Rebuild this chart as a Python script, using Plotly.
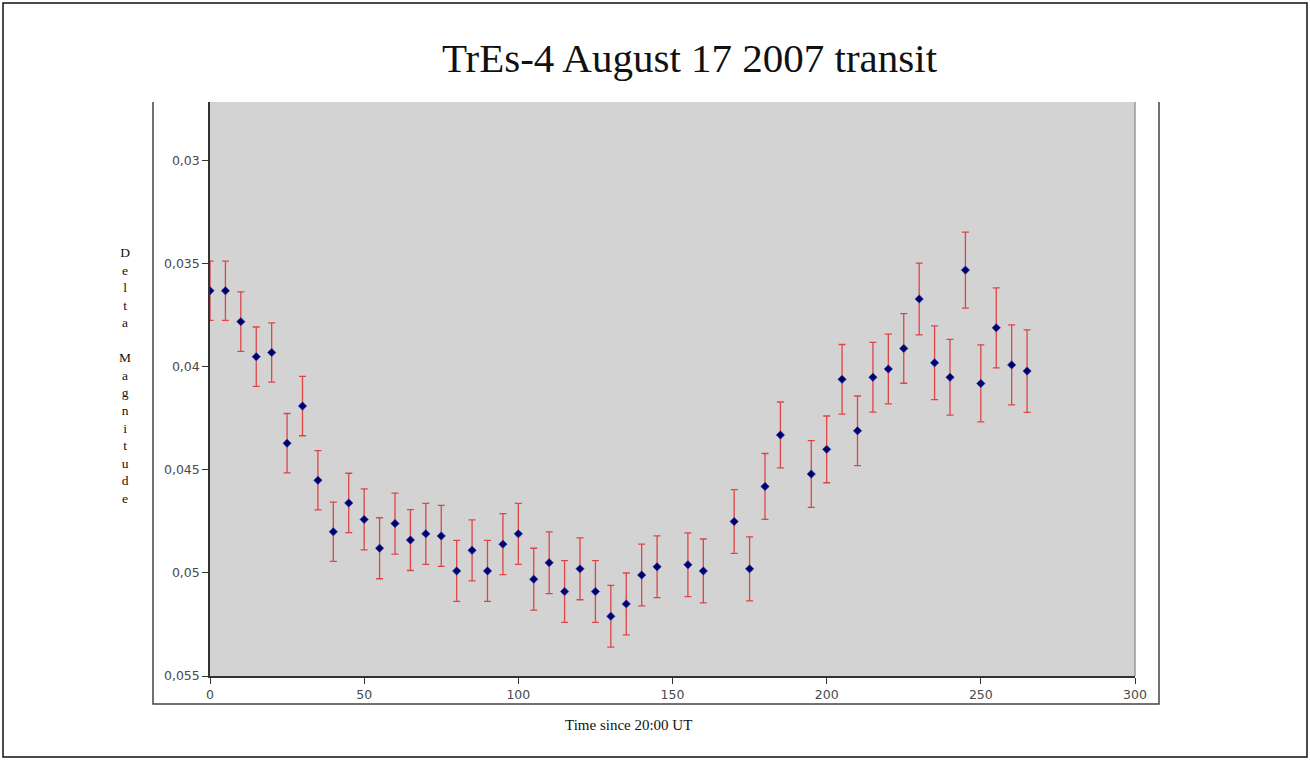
import plotly.graph_objects as go

# ---- data ----
time_min = [0, 5, 10, 15, 20, 25, 30, 35, 40, 45,
            50, 55, 60, 65, 70, 75, 80, 85, 90, 95, 100,
            105, 110, 115, 120, 125, 130, 135, 140, 145,
            155, 160, 170, 175, 180, 185, 195, 200,
            205, 210, 215, 220, 225, 230, 235, 240, 245,
            250, 255, 260, 265]
delta_mag = [0.0363, 0.0363, 0.0378, 0.0395, 0.0393, 0.0437, 0.0419, 0.0455, 0.0480, 0.0466,
             0.0474, 0.0488, 0.0476, 0.0484, 0.0481, 0.0482, 0.0499, 0.0489, 0.0499, 0.0486, 0.0481,
             0.0503, 0.0495, 0.0509, 0.0498, 0.0509, 0.0521, 0.0515, 0.0501, 0.0497,
             0.0496, 0.0499, 0.0475, 0.0498, 0.0458, 0.0433, 0.0452, 0.0440,
             0.0406, 0.0431, 0.0405, 0.0401, 0.0391, 0.0367, 0.0398, 0.0405, 0.0353,
             0.0408, 0.0381, 0.0399, 0.0402]
mag_err = [0.00144] * 10 + [0.00148] * 11 + [0.0015] * 9 + \
          [0.00155, 0.00155, 0.00155, 0.00155, 0.0016, 0.0016, 0.00162, 0.00162,
           0.00169, 0.00169, 0.00169, 0.00169, 0.00169, 0.00174, 0.00179, 0.00184, 0.00184,
           0.00187, 0.00194, 0.00194, 0.0020]

y_tickvals = [0.03, 0.035, 0.04, 0.045, 0.05, 0.055]
y_ticktext = ["0,03", "0,035", "0,04", "0,045", "0,05", "0,055"]
x_tickvals = [0, 50, 100, 150, 200, 250, 300]

title_text = "TrEs-4 August 17 2007 transit"
x_title = "Time since 20:00 UT"
y_title = "Delta Magnitude"

fig = go.Figure()
fig.add_trace(go.Scatter(
    x=time_min, y=delta_mag, mode="markers",
    marker=dict(symbol="diamond", size=6.5, color="#00006e",
                line=dict(width=0.6, color="#3a4ab0")),
    error_y=dict(type="data", array=mag_err, visible=True,
                 color="#e04545", thickness=1.3, width=3.5),
    showlegend=False,
))

W, H = 1310, 760
L, R, T, B = 210, 1135, 102, 676
pw, ph = R - L, B - T


def px(xp):
    return (xp - L) / pw


def py(yp):
    return (B - yp) / ph


shapes = [
    # outer border
    dict(type="rect", xref="paper", yref="paper",
         x0=px(3), x1=px(1307), y0=py(757), y1=py(3),
         line=dict(color="#111111", width=1.5), layer="below"),
    # inner frame (left, bottom, right)
    dict(type="path", xref="paper", yref="paper",
         path=f"M {px(153)} {py(102)} L {px(153)} {py(704)} L {px(1159)} {py(704)} L {px(1159)} {py(102)}",
         line=dict(color="#444444", width=1.5)),
    # right edge of plot area
    dict(type="line", xref="paper", yref="paper",
         x0=1, x1=1, y0=0, y1=1, line=dict(color="#9a9a9a", width=1.5)),
]

ytitle_html = "<br>".join(list(y_title))

fig.update_layout(
    width=W, height=H,
    margin=dict(l=L, r=W - R, t=T, b=H - B, pad=0),
    paper_bgcolor="white",
    plot_bgcolor="#d3d3d3",
    title=dict(text=title_text, x=689.5 / W, xanchor="center",
               y=1 - 58 / H, yanchor="middle",
               font=dict(family="Liberation Serif", size=41, color="#111111")),
    shapes=shapes,
    annotations=[
        dict(text=ytitle_html, xref="paper", yref="paper",
             x=px(125), y=py(375), xanchor="center", yanchor="middle",
             showarrow=False,
             font=dict(family="Liberation Serif", size=13.5, color="#111111")),
        dict(text=x_title, xref="paper", yref="paper",
             x=px(628.5), y=py(725), xanchor="center", yanchor="middle",
             showarrow=False,
             font=dict(family="Liberation Serif", size=15, color="#111111")),
    ],
    xaxis=dict(range=[0, 300], tickvals=x_tickvals, showgrid=False, zeroline=False,
               showline=True, linecolor="#333333", linewidth=1.5,
               ticks="outside", ticklen=6, tickcolor="#333333", tickwidth=1.2,
               tickfont=dict(family="DejaVu Sans", size=12.5, color="#4a4a4a")),
    yaxis=dict(range=[0.055, 0.02714], tickvals=y_tickvals, ticktext=y_ticktext,
               showgrid=False, zeroline=False,
               showline=True, linecolor="#333333", linewidth=1.5,
               ticks="outside", ticklen=6, tickcolor="#333333", tickwidth=1.2,
               tickfont=dict(family="DejaVu Sans", size=12.5, color="#4a4a4a")),
)

fig.write_html("out.html", config={"displayModeBar": False},
               post_script="document.body.style.margin='0px';")
